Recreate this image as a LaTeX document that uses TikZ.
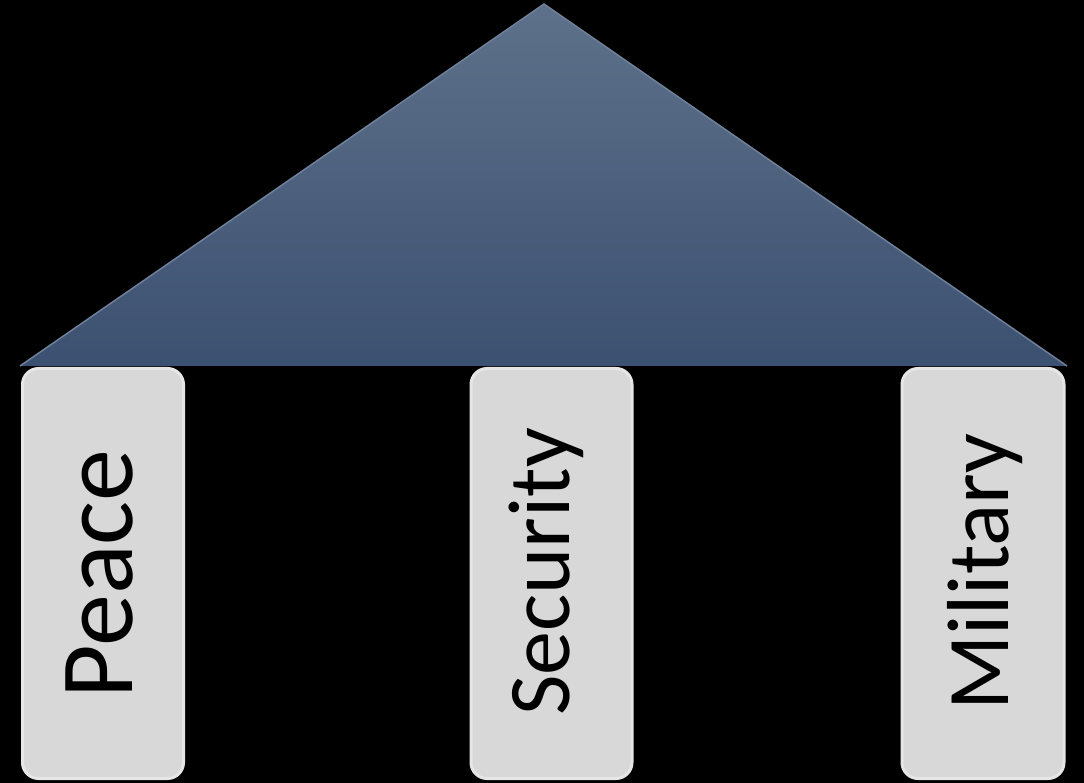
\documentclass[tikz,border=0pt]{standalone}
\usepackage{fontspec}
\newfontfamily\calib{Carlito}
\definecolor{roofTop}{HTML}{5E718A}
\definecolor{roofBot}{HTML}{3C5071}
\definecolor{roofEdge}{HTML}{6F819A}
\definecolor{pillarFill}{HTML}{D8D8D8}
\definecolor{pillarEdge}{HTML}{E6E6E6}
\begin{document}
\begin{tikzpicture}[x=1pt,y=-1pt,
  pillar/.style={draw=pillarEdge, line width=3pt, fill=pillarFill, rounded corners=16pt,
    minimum width=#1, minimum height=410pt, inner sep=0pt},
  pillar/.default=161pt,
  label big/.style={rotate=90, anchor=base, inner sep=0pt, font=\calib\fontsize{104}{120}\selectfont},
  label mid/.style={rotate=90, anchor=base, inner sep=0pt, font=\calib\fontsize{88}{106}\selectfont}]
\useasboundingbox (0,0) rectangle (1084,783);
\fill[black] (0,0) rectangle (1084,783);
% roof
\coordinate (apex) at (544,4);
\coordinate (eaveL) at (20,366);
\coordinate (eaveR) at (1067,366);
\shade[top color=roofTop, bottom color=roofBot] (apex) -- (eaveR) -- (eaveL) -- cycle;
\draw[roofEdge, line width=1.5pt, line join=miter] (eaveL) -- (apex) -- (eaveR);
% pillars
\node[pillar] (peaceP) at (103,573.5) {};
\node[pillar] (securityP) at (551.5,573.5) {};
\node[pillar=162pt] (militaryP) at (983,573.5) {};
% labels
\node[label big] (peaceT) at (132,574) {Peace};
\node[label mid] (securityT) at (569,572) {Security};
\node[label mid] (militaryT) at (1008,572) {Military};
\end{tikzpicture}
\end{document}
